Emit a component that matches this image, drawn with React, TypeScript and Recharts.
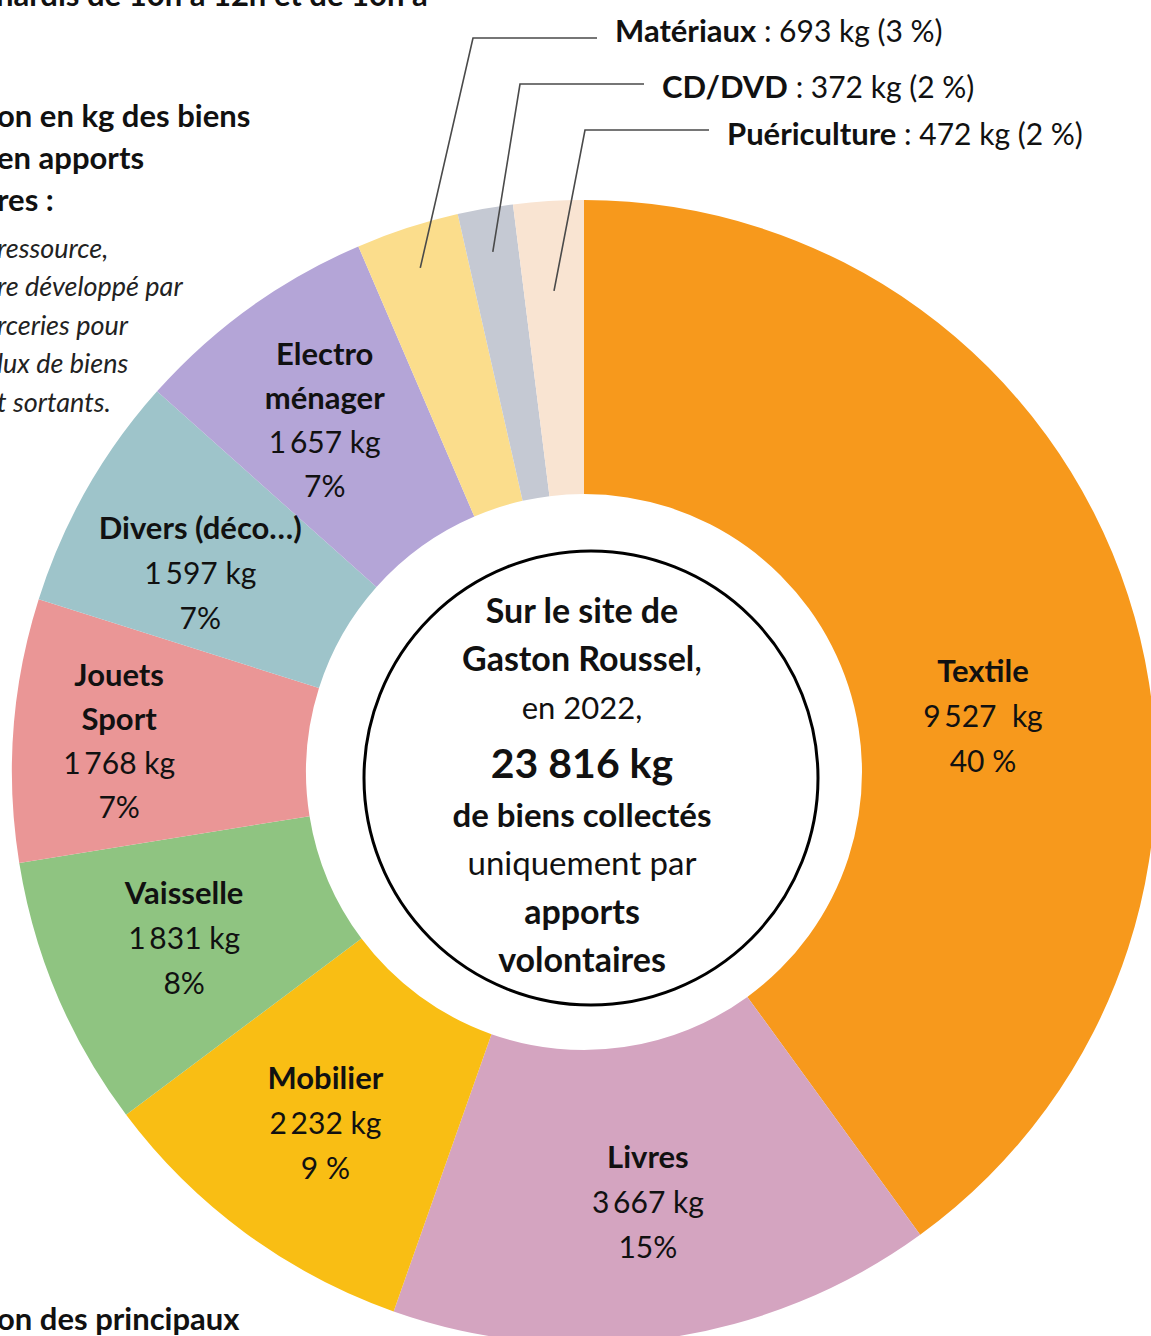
import React from "react"
import { Pie, PieChart, Cell } from "recharts"

// Donation weights collected by voluntary drop-off, Gaston Roussel site, 2022
const categories = [
  "Textile",
  "Livres",
  "Mobilier",
  "Vaisselle",
  "Jouets Sport",
  "Divers (déco…)",
  "Electroménager",
  "Matériaux",
  "CD/DVD",
  "Puériculture",
]
const weightsKg = [9527, 3667, 2232, 1831, 1768, 1597, 1657, 693, 372, 472]
const percentLabels = ["40 %", "15%", "9 %", "8%", "7%", "7%", "7%", "3 %", "2 %", "2 %"]
const sliceColors = [
  "#F7991C",
  "#D4A4C0",
  "#F9BE14",
  "#8FC481",
  "#EA9696",
  "#9EC4CA",
  "#B4A5D7",
  "#FBDD8C",
  "#C5C9D3",
  "#F9E4D2",
]

const data = categories.map((name, i) => ({ name, value: weightsKg[i] }))

const FONT = "Lato, 'Open Sans', sans-serif"
const RADIAN = Math.PI / 180

// how each in-ring label is broken into lines
const titleLines: Record<string, string[]> = {
  "Jouets Sport": ["Jouets", "Sport"],
  "Electroménager": ["Electro", "ménager"],
}
// small nudges so labels sit where the original puts them
const labelNudge: Record<number, [number, number]> = {
  0: [-10, 76],
  1: [2, 3],
  2: [-4, 3],
  3: [-4, -3],
  4: [-36, 0],
  5: [-10, 13],
  6: [-8, -4],
}
// callouts for the three thin slices at the top
const callouts: Record<number, { r: number; elbowX: number; elbowY: number; textDy: number }> = {
  7: { r: 530, elbowX: 473, elbowY: 38, textDy: -8 },
  8: { r: 528, elbowX: 520, elbowY: 84, textDy: 2 },
  9: { r: 482, elbowX: 585, elbowY: 130, textDy: 3 },
}

const fmtKg = (v: number) => {
  const k = Math.floor(v / 1000)
  const rest = String(v % 1000).padStart(3, "0")
  return k > 0 ? `${k}\u2009${rest}` : `${v}`
}

function SliceLabel(props: any) {
  const { cx, cy, midAngle, index, name, value } = props
  const cos = Math.cos(-midAngle * RADIAN)
  const sin = Math.sin(-midAngle * RADIAN)

  const co = callouts[index]
  if (co) {
    const sx = cx + co.r * cos
    const sy = cy + co.r * sin
    const hx = co.elbowX + 124
    return (
      <g>
        <polyline
          points={`${sx},${sy} ${co.elbowX},${co.elbowY} ${hx},${co.elbowY}`}
          fill="none"
          stroke="#4a4a4a"
          strokeWidth={1.6}
        />
        <text
          x={hx + 18}
          y={co.elbowY + co.textDy}
          dominantBaseline="central"
          fontFamily={FONT}
          fill="#111"
        >
          <tspan fontWeight={700} fontSize={31}>
            {name}
          </tspan>
          <tspan fontSize={30}>{` : ${value} kg (${percentLabels[index]})`}</tspan>
        </text>
      </g>
    )
  }

  const [nx, ny] = labelNudge[index] ?? [0, 0]
  const x = cx + 430 * cos + nx
  const y = cy + 430 * sin + ny
  const titles = titleLines[name] ?? [name]
  const lines = [
    ...titles.map((t) => ({ t, bold: true })),
    { t: `${fmtKg(value)}${index === 0 ? "\u00a0 kg" : " kg"}`, bold: false },
    { t: percentLabels[index], bold: false },
  ]
  const gap = lines.length > 3 ? 44 : 45
  const top = y - ((lines.length - 1) * gap) / 2
  return (
    <g>
      {lines.map((l, i) => (
        <text
          key={i}
          x={x}
          y={top + i * gap}
          textAnchor="middle"
          dominantBaseline="central"
          fontFamily={FONT}
          fontWeight={l.bold ? 700 : 400}
          fontSize={l.bold ? 31 : 30}
          fill="#111"
        >
          {l.t}
        </text>
      ))}
    </g>
  )
}

const centerLines = [
  { t: "Sur le site de", bold: true, size: 34 },
  { t: "Gaston Roussel", tail: ",", bold: true, size: 34 },
  { t: "en 2022,", bold: false, size: 31 },
  { t: "23 816 kg", bold: true, size: 41 },
  { t: "de biens collectés", bold: true, size: 33 },
  { t: "uniquement par", bold: false, size: 33 },
  { t: "apports", bold: true, size: 34 },
  { t: "volontaires", bold: true, size: 34 },
]
const centerY = [609, 657, 707, 762, 814, 862, 910, 958]

const introBold = ["on en kg des biens", "en apports", "res :"]
const introItalic = ["ressource,", "re développé par", "rceries pour", "lux de biens", "t sortants."]

export default function App() {
  return (
    <div
      style={{
        position: "absolute",
        left: 0,
        top: 0,
        width: 1151,
        height: 1336,
        overflow: "hidden",
        background: "#fff",
      }}
    >
      <PieChart width={1151} height={1336} margin={{ top: 0, right: 0, bottom: 0, left: 0 }}>
        <Pie
          data={data}
          dataKey="value"
          nameKey="name"
          cx={584}
          cy={772}
          innerRadius={278}
          outerRadius={572}
          startAngle={90}
          endAngle={-270}
          stroke="none"
          label={SliceLabel}
          labelLine={false}
          isAnimationActive={false}
        >
          {data.map((d, i) => (
            <Cell key={d.name} fill={sliceColors[i]} />
          ))}
        </Pie>
      </PieChart>
      <svg
        width={1151}
        height={1336}
        style={{ position: "absolute", left: 0, top: 0, pointerEvents: "none" }}
      >
        <circle cx={591} cy={778} r={227} fill="#fff" stroke="#000" strokeWidth={3} />
        {centerLines.map((l, i) => (
          <text
            key={i}
            x={582}
            y={centerY[i]}
            textAnchor="middle"
            dominantBaseline="central"
            fontFamily={FONT}
            fontWeight={l.bold ? 700 : 400}
            fontSize={l.size}
            fill="#111"
          >
            {l.t}
            {l.tail ? <tspan fontWeight={400}>{l.tail}</tspan> : null}
          </text>
        ))}

        <text x={-4} y={6} fontFamily={FONT} fontWeight={700} fontSize={31} fill="#111">
          nardis de 10h à 12h et de 10h à
        </text>
        {introBold.map((t, i) => (
          <text
            key={t}
            x={-3}
            y={115 + i * 42}
            dominantBaseline="central"
            fontFamily={FONT}
            fontWeight={700}
            fontSize={31}
            fill="#111"
          >
            {t}
          </text>
        ))}
        {introItalic.map((t, i) => (
          <text
            key={t}
            x={-3}
            y={247 + i * 38.5}
            dominantBaseline="central"
            fontFamily={FONT}
            fontStyle="italic"
            fontSize={27}
            fill="#222"
          >
            {t}
          </text>
        ))}
        <text
          x={-3}
          y={1318}
          dominantBaseline="central"
          fontFamily={FONT}
          fontWeight={700}
          fontSize={31}
          fill="#111"
        >
          on des principaux
        </text>
      </svg>
    </div>
  )
}
